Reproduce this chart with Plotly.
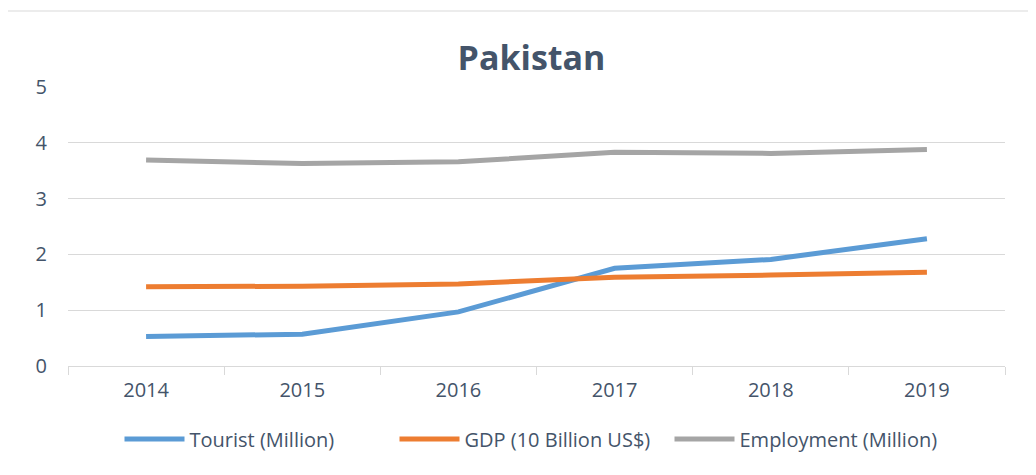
import plotly.graph_objects as go

years = ["2014", "2015", "2016", "2017", "2018", "2019"]
tourist = [0.53, 0.57, 0.97, 1.75, 1.91, 2.28]
gdp = [1.42, 1.43, 1.47, 1.59, 1.63, 1.68]
employment = [3.69, 3.63, 3.66, 3.83, 3.81, 3.88]

names = ["Tourist (Million)", "GDP (10 Billion US$)", "Employment (Million)"]
colors = ["#5B9BD5", "#ED7D31", "#A5A5A5"]
series = [tourist, gdp, employment]

FONT = "Open Sans, sans-serif"
TXT = "#44546A"

fig = go.Figure()
for n, c, s in zip(names, colors, series):
    fig.add_trace(go.Scatter(x=years, y=s, name=n, mode="lines",
                             line=dict(color=c, width=5)))

# page body has an 8px offset; margins compensate so the plot area lands at x 68-1005, y 87-366
OFF = 8
W, H = 1036, 475
L, T = 68 - OFF, 87 - OFF
R = (W + OFF) - 1005
B = (H + OFF) - 366
pw, ph = W - L - R, H - T - B

fig.update_layout(
    width=W, height=H,
    margin=dict(l=L, r=R, t=T, b=B, autoexpand=False),
    plot_bgcolor="white", paper_bgcolor="white",
    font=dict(family=FONT, size=20, color=TXT),
    title=dict(text="<b>Pakistan</b>", x=(531.5 - OFF) / W, xanchor="center",
               y=1 - (58 - OFF) / H, yanchor="middle",
               font=dict(size=34, color=TXT, family=FONT)),
    showlegend=True,
    legend=dict(orientation="h", x=(532 - 68) / pw, xanchor="center", y=-(439 - 366) / ph,
                yanchor="middle", font=dict(size=20, color=TXT), itemwidth=60, tracegroupgap=0,
                entrywidth=200, entrywidthmode="pixels"),
    xaxis=dict(type="category", range=[-0.5, 5.5], showgrid=False, automargin=False,
               showline=True, linecolor="#D9D9D9", linewidth=1,
               ticks="outside", tickson="boundaries", ticklen=8, tickcolor="#D9D9D9",
               tickfont=dict(size=20, color=TXT)),
    yaxis=dict(range=[0, 5], dtick=1, showgrid=True, gridcolor="#D9D9D9", gridwidth=1,
               automargin=False, zeroline=False, showline=False, ticks="",
               tickfont=dict(size=20, color=TXT)),
    shapes=[dict(type="rect", xref="paper", yref="paper",
                 x0=(5 - 68) / pw, x1=(W + 40 - 68) / pw,
                 y0=-(H + 40 - 366) / ph, y1=(366 - 11) / ph,
                 line=dict(color="#D9D9D9", width=1), fillcolor="rgba(0,0,0,0)", layer="below")],
)
fig.update_yaxes(ticklabelstandoff=20)
fig.update_xaxes(ticklabelstandoff=6)
fig.write_html("out.html")
